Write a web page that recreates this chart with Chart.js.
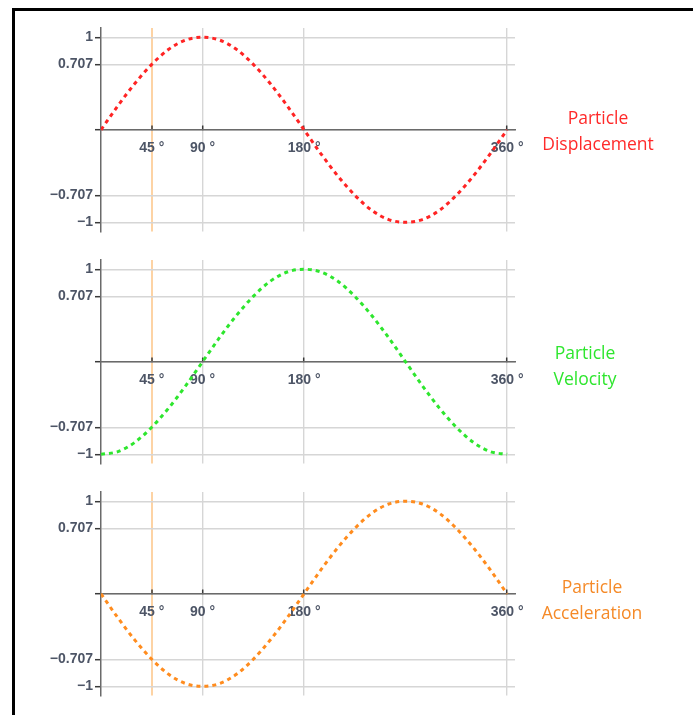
<!DOCTYPE html>
<html>
<head>
<meta charset="utf-8">
<script src="https://cdn.jsdelivr.net/npm/chart.js@4"></script>
<style>
  body { margin: 0; background: #fff; width: 693px; height: 715px; overflow: hidden; position: relative; }
  .frame { position: absolute; left: 12px; top: 8px; right: 0; bottom: 0; border-top: 3px solid #000; border-left: 3px solid #000; }
  canvas { position: absolute; left: 0; }
  .lbl { position: absolute; width: 200px; text-align: center; font-family: "Open Sans", sans-serif; font-size: 17.5px; line-height: 26px; }
</style>
</head>
<body>
<div class="frame"></div>
<canvas id="c0" width="540" height="232" style="top:10px"></canvas>
<canvas id="c1" width="540" height="232" style="top:242px"></canvas>
<canvas id="c2" width="540" height="232" style="top:474px"></canvas>
<div class="lbl" style="left:498px; top:104px; color:#ff2a2a">Particle<br>Displacement</div>
<div class="lbl" style="left:485px; top:339px; color:#2ee62e">Particle<br>Velocity</div>
<div class="lbl" style="left:492px; top:573px; color:#f58a28">Particle<br>Acceleration</div>
<script>
// angle in degrees
const degrees = [0, 15, 30, 45, 60, 75, 90, 105, 120, 135, 150, 165, 180,
  195, 210, 225, 240, 255, 270, 285, 300, 315, 330, 345, 360];
const displacement = [0, 0.26, 0.5, 0.707, 0.87, 0.97, 1, 0.97, 0.87, 0.707, 0.5, 0.26, 0,
  -0.26, -0.5, -0.707, -0.87, -0.97, -1, -0.97, -0.87, -0.707, -0.5, -0.26, 0];
const velocity = [-1, -0.97, -0.87, -0.707, -0.5, -0.26, 0, 0.26, 0.5, 0.707, 0.87, 0.97, 1,
  0.97, 0.87, 0.707, 0.5, 0.26, 0, -0.26, -0.5, -0.707, -0.87, -0.97, -1];
const acceleration = [0, -0.26, -0.5, -0.707, -0.87, -0.97, -1, -0.97, -0.87, -0.707, -0.5, -0.26, 0,
  0.26, 0.5, 0.707, 0.87, 0.97, 1, 0.97, 0.87, 0.707, 0.5, 0.26, 0];

const xTicks = [45, 90, 180, 360];
const yTicks = [-1, -0.707, 0, 0.707, 1];
const yTickLabels = ["\u22121", "\u22120.707", "", "0.707", "1"];

Chart.defaults.font.family = "'Liberation Sans', Arial, sans-serif";

const tickFont = { size: 14, weight: "bold" };
const tickColor = "#4d5566";

function makeChart(id, values, color) {
  new Chart(document.getElementById(id), {
    type: "line",
    data: {
      datasets: [{
        data: degrees.map((d, i) => ({ x: d, y: values[i] })),
        borderColor: color,
        borderWidth: 3,
        borderDash: [4, 4],
        pointRadius: 0,
        cubicInterpolationMode: "monotone",
        fill: false
      }]
    },
    options: {
      responsive: false,
      animation: false,
      layout: { padding: { left: 0, right: 25, top: 18, bottom: 2 } },
      plugins: { legend: { display: false }, tooltip: { enabled: false } },
      scales: {
        x: {
          type: "linear", min: 0, max: 367, bounds: "data",
          position: { y: 0 },
          afterBuildTicks: s => { s.ticks = xTicks.map(v => ({ value: v })); },
          afterFit: s => { s.height = 0; },
          grid: {
            color: c => (c.tick && c.tick.value === 45) ? "#fdd3a4" : "#d6d6d6",
            lineWidth: c => (c.tick && c.tick.value === 45) ? 2 : 1.4,
            tickLength: -5,
            tickColor: "#3a3a3a",
            tickWidth: 1.5
          },
          border: { color: "#6a6a6a", width: 1.5 },
          ticks: {
            autoSkip: false, maxRotation: 0, padding: 15,
            color: tickColor, font: tickFont,
            callback: v => v + " \u00b0"
          }
        },
        y: {
          type: "linear", min: -1.1, max: 1.1, bounds: "data",
          position: "left",
          afterBuildTicks: s => { s.ticks = yTicks.map(v => ({ value: v })); },
          afterFit: s => { s.width = 101; },
          grid: { color: "#d6d6d6", lineWidth: 1.4, tickLength: 6, tickColor: "#3a3a3a", tickWidth: 1.5 },
          border: { color: "#6a6a6a", width: 1.5 },
          ticks: {
            autoSkip: false, padding: 2,
            color: tickColor, font: tickFont,
            callback: v => yTickLabels[yTicks.indexOf(v)]
          }
        }
      }
    }
  });
}

makeChart("c0", displacement, "#ff2424");
makeChart("c1", velocity, "#2ee62e");
makeChart("c2", acceleration, "#ff8c1e");
</script>
</body>
</html>
